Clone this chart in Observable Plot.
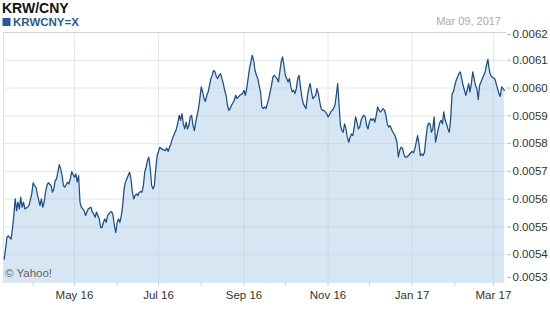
<!DOCTYPE html>
<html>
<head>
<meta charset="utf-8">
<script src="https://cdn.jsdelivr.net/npm/d3@7"></script>
<script src="https://cdn.jsdelivr.net/npm/@observablehq/plot@0.6"></script>
<style>
  html, body { margin: 0; padding: 0; background: #fff; }
  #wrap { position: relative; width: 550px; height: 309px; overflow: hidden; font-family: "Liberation Sans", Arial, Helvetica, sans-serif; }
  #wrap svg { position: absolute; left: 0; top: 0; }
</style>
</head>
<body>
<div id="wrap"></div>
<script>
// ---- chart texts ----
const title = "KRW/CNY";
const seriesName = "KRWCNY=X";
const asOf = "Mar 09, 2017";
const credit = "\u00A9 Yahoo!";

// ---- axes ----
const yTicks = [0.0053, 0.0054, 0.0055, 0.0056, 0.0057, 0.0058, 0.0059, 0.0060, 0.0061, 0.0062];
const majorMonths = ["2016-05-01", "2016-07-01", "2016-09-01", "2016-11-01", "2017-01-01", "2017-03-01"];
const minorMonths = ["2016-04-01", "2016-06-01", "2016-08-01", "2016-10-01", "2016-12-01", "2017-02-01"];
const xDomain = ["2016-03-10T12:00Z", "2017-03-10T12:00Z"];

// ---- series (KRW/CNY daily close) ----
const dates = [
"2016-03-11","2016-03-12","2016-03-13","2016-03-14","2016-03-16","2016-03-17","2016-03-18","2016-03-19","2016-03-20","2016-03-21",
"2016-03-22","2016-03-23","2016-03-24","2016-03-25","2016-03-26","2016-03-28","2016-03-29","2016-03-31",
"2016-04-01","2016-04-02","2016-04-03","2016-04-04","2016-04-06","2016-04-07","2016-04-08","2016-04-09","2016-04-10","2016-04-11",
"2016-04-12","2016-04-14","2016-04-15","2016-04-16","2016-04-17","2016-04-18","2016-04-20","2016-04-21","2016-04-22","2016-04-23",
"2016-04-24","2016-04-26","2016-04-27","2016-04-28","2016-04-29",
"2016-05-01","2016-05-02","2016-05-03","2016-05-04","2016-05-05","2016-05-06","2016-05-07","2016-05-08","2016-05-09","2016-05-10",
"2016-05-11","2016-05-13","2016-05-14","2016-05-15","2016-05-16","2016-05-17","2016-05-19","2016-05-20","2016-05-21","2016-05-22",
"2016-05-23","2016-05-24","2016-05-25","2016-05-27","2016-05-28","2016-05-29","2016-05-30","2016-05-31",
"2016-06-01","2016-06-02","2016-06-03","2016-06-04","2016-06-05","2016-06-06","2016-06-07","2016-06-08","2016-06-09","2016-06-10",
"2016-06-11","2016-06-12","2016-06-13","2016-06-14","2016-06-15","2016-06-16","2016-06-17","2016-06-18","2016-06-19","2016-06-20",
"2016-06-21","2016-06-22","2016-06-23","2016-06-24","2016-06-25","2016-06-26","2016-06-27","2016-06-28","2016-06-29","2016-06-30",
"2016-07-01","2016-07-02","2016-07-03","2016-07-04","2016-07-06","2016-07-07","2016-07-08","2016-07-09","2016-07-10","2016-07-11",
"2016-07-12","2016-07-13","2016-07-14","2016-07-15","2016-07-16","2016-07-17","2016-07-18","2016-07-19","2016-07-20","2016-07-21",
"2016-07-22","2016-07-23","2016-07-24","2016-07-25","2016-07-26","2016-07-27","2016-07-28","2016-07-29","2016-07-30","2016-07-31",
"2016-08-01","2016-08-02","2016-08-03","2016-08-04","2016-08-05","2016-08-06","2016-08-07","2016-08-08","2016-08-09","2016-08-10",
"2016-08-11","2016-08-12","2016-08-13","2016-08-14","2016-08-15","2016-08-16","2016-08-17","2016-08-18","2016-08-19","2016-08-20",
"2016-08-21","2016-08-22","2016-08-23","2016-08-25","2016-08-26","2016-08-27","2016-08-28","2016-08-29","2016-08-31",
"2016-09-01","2016-09-02","2016-09-03","2016-09-04","2016-09-05","2016-09-06","2016-09-07","2016-09-08","2016-09-09","2016-09-10",
"2016-09-11","2016-09-12","2016-09-13","2016-09-14","2016-09-15","2016-09-16","2016-09-17","2016-09-18","2016-09-19","2016-09-20",
"2016-09-21","2016-09-22","2016-09-23","2016-09-25","2016-09-26","2016-09-27","2016-09-28","2016-09-29","2016-09-30",
"2016-10-01","2016-10-02","2016-10-03","2016-10-04","2016-10-05","2016-10-06","2016-10-07","2016-10-08","2016-10-09","2016-10-10",
"2016-10-11","2016-10-12","2016-10-13","2016-10-14","2016-10-16","2016-10-17","2016-10-18","2016-10-19","2016-10-20","2016-10-21",
"2016-10-22","2016-10-23","2016-10-24","2016-10-25","2016-10-26","2016-10-27","2016-10-28","2016-10-29","2016-10-30","2016-10-31",
"2016-11-01","2016-11-02","2016-11-03","2016-11-04","2016-11-05","2016-11-06","2016-11-07","2016-11-08","2016-11-09","2016-11-10",
"2016-11-11","2016-11-12","2016-11-13","2016-11-14","2016-11-15","2016-11-16","2016-11-17","2016-11-18","2016-11-19","2016-11-20",
"2016-11-21","2016-11-22","2016-11-23","2016-11-24","2016-11-25","2016-11-26","2016-11-27","2016-11-28","2016-11-29","2016-11-30",
"2016-12-01","2016-12-02","2016-12-03","2016-12-04","2016-12-05","2016-12-06","2016-12-07","2016-12-08","2016-12-09","2016-12-10",
"2016-12-11","2016-12-12","2016-12-13","2016-12-14","2016-12-15","2016-12-16","2016-12-17","2016-12-18","2016-12-19","2016-12-20",
"2016-12-21","2016-12-22","2016-12-23","2016-12-24","2016-12-25","2016-12-26","2016-12-27","2016-12-28","2016-12-30","2016-12-31",
"2017-01-01","2017-01-02","2017-01-03","2017-01-05","2017-01-06","2017-01-07","2017-01-08","2017-01-09","2017-01-10","2017-01-11",
"2017-01-12","2017-01-13","2017-01-14","2017-01-15","2017-01-16","2017-01-17","2017-01-18","2017-01-19","2017-01-20","2017-01-21",
"2017-01-22","2017-01-23","2017-01-24","2017-01-25","2017-01-26","2017-01-27","2017-01-28","2017-01-29","2017-01-30","2017-01-31",
"2017-02-01","2017-02-02","2017-02-03","2017-02-04","2017-02-05","2017-02-06","2017-02-07","2017-02-08","2017-02-09","2017-02-10",
"2017-02-11","2017-02-12","2017-02-13","2017-02-14","2017-02-15","2017-02-16","2017-02-17","2017-02-18","2017-02-19","2017-02-20",
"2017-02-21","2017-02-22","2017-02-23","2017-02-24","2017-02-25","2017-02-26","2017-02-27","2017-02-28",
"2017-03-01","2017-03-02","2017-03-03","2017-03-04","2017-03-05","2017-03-06","2017-03-07","2017-03-08","2017-03-09"
];
const rates = [
0.005384,0.005420,0.005462,0.005468,0.005456,0.005492,0.005541,0.005601,0.005559,0.005589,
0.005565,0.005607,0.005571,0.005589,0.005565,0.005571,0.005577,0.005619,
0.005659,0.005649,0.005643,0.005619,0.005577,0.005601,0.005571,0.005589,0.005625,0.005649,
0.005659,0.005649,0.005625,0.005637,0.005667,0.005673,0.005724,0.005709,0.005685,0.005649,
0.005643,0.005661,0.005655,0.005673,0.005699,
0.005679,0.005691,0.005661,0.005685,0.005589,0.005571,0.005565,0.005559,0.005541,0.005553,
0.005565,0.005571,0.005553,0.005547,0.005535,0.005553,0.005529,0.005498,0.005498,0.005516,
0.005529,0.005516,0.005541,0.005553,0.005555,0.005541,0.005504,0.005480,
0.005516,0.005529,0.005516,0.005541,0.005577,0.005637,0.005661,0.005673,0.005685,0.005697,
0.005673,0.005625,0.005601,0.005613,0.005619,0.005613,0.005625,0.005627,0.005625,0.005649,
0.005697,0.005715,0.005739,0.005751,0.005709,0.005649,0.005637,0.005649,0.005709,0.005757,
0.005772,0.005787,0.005781,0.005779,0.005775,0.005784,0.005772,0.005787,0.005799,0.005817,
0.005829,0.005841,0.005853,0.005875,0.005902,0.005884,0.005908,0.005871,0.005853,0.005877,
0.005853,0.005865,0.005896,0.005902,0.005865,0.005847,0.005877,0.005902,0.005926,0.005962,
0.006004,0.005986,0.005962,0.005952,0.005974,0.005986,0.006010,0.006034,0.006046,0.006064,
0.006058,0.006040,0.006034,0.006046,0.006052,0.006034,0.006016,0.005992,0.005974,0.005938,
0.005920,0.005926,0.005938,0.005956,0.005974,0.005962,0.005968,0.005974,0.005980,
0.005992,0.005974,0.005998,0.006034,0.006070,0.006094,0.006118,0.006100,0.006064,0.006046,
0.006034,0.006010,0.005986,0.005932,0.005926,0.005932,0.005926,0.005944,0.005962,0.005986,
0.006010,0.006040,0.006046,0.006034,0.006022,0.006058,0.006094,0.006112,0.006082,
0.006046,0.006034,0.006022,0.006034,0.006004,0.005986,0.005992,0.005980,0.005998,0.006034,
0.006046,0.006004,0.005968,0.005944,0.005926,0.005968,0.005998,0.006016,0.005986,0.005962,
0.005968,0.005974,0.005998,0.005980,0.005950,0.005926,0.005920,0.005920,0.005914,0.005908,
0.005896,0.005904,0.005914,0.005920,0.005926,0.005938,0.005974,0.006016,0.005938,0.005865,
0.005847,0.005841,0.005871,0.005853,0.005823,0.005805,0.005823,0.005835,0.005829,0.005859,
0.005896,0.005877,0.005853,0.005859,0.005884,0.005896,0.005902,0.005896,0.005865,0.005853,
0.005877,0.005890,0.005884,0.005890,0.005877,0.005902,0.005932,0.005920,0.005914,0.005920,
0.005926,0.005920,0.005902,0.005871,0.005859,0.005865,0.005853,0.005841,0.005835,0.005823,
0.005805,0.005751,0.005775,0.005787,0.005784,0.005763,0.005751,0.005751,0.005760,0.005767,
0.005772,0.005767,0.005781,0.005829,0.005799,0.005757,0.005763,0.005757,0.005769,0.005817,
0.005859,0.005874,0.005871,0.005841,0.005853,0.005896,0.005805,0.005829,0.005853,0.005874,
0.005884,0.005871,0.005914,0.005884,0.005871,0.005853,0.005841,0.005890,0.005980,0.005986,
0.006010,0.006028,0.006040,0.006052,0.006058,0.006034,0.006010,0.005992,0.005974,0.005992,
0.006016,0.005986,0.006016,0.006058,0.006034,0.006010,0.005998,0.005959,0.006010,0.006022,
0.006034,0.006046,0.006058,0.006082,0.006104,0.006064,0.006046,0.006040,
0.006036,0.006034,0.006016,0.005998,0.005980,0.005970,0.006004,0.005998,0.005992
];

// ---- build ----
const parse = d3.isoParse;
const data = dates.map((d, i) => ({date: parse(d), rate: rates[i]}));
const yMin = d3.min(yTicks), yMax = d3.max(yTicks);
const majors = majorMonths.map(parse);
const minors = minorMonths.map(parse);
const fmtMonth = d3.utcFormat("%b %y");
const fmtRate = d => d.toFixed(4);
const font = '"Liberation Sans", Arial, Helvetica, sans-serif';

const lineColor = "#1b4f8c";
const gridColor = "#b4c9df";
const yAxisStyle = {anchor: "right", label: null, tickSize: 4, tickPadding: 2, tickFormat: fmtRate, stroke: "#bbb", fill: "#333", fontSize: 11.5};

const chart = Plot.plot({
  width: 550,
  height: 309,
  marginTop: 32,
  marginBottom: 27,
  marginLeft: 3,
  marginRight: 44,
  style: {fontFamily: font, fontSize: "11.5px", background: "transparent", overflow: "visible"},
  x: {type: "utc", domain: xDomain.map(parse), axis: null, label: null},
  y: {domain: [yMin, yMax], axis: null, label: null},
  marks: [
    Plot.areaY(data, {x: "date", y1: yMin, y2: "rate", fill: "#d6e6f2"}),
    Plot.ruleY(yTicks.filter(t => t !== yMax), {stroke: gridColor, strokeOpacity: 0.4}),
    Plot.ruleX(majors, {stroke: gridColor, strokeOpacity: 0.4}),
    Plot.ruleY([yMax], {stroke: "#d4d4d4"}),
    Plot.ruleX([parse(xDomain[0])], {stroke: "#e2e2e2"}),
    Plot.lineY(data, {x: "date", y: "rate", stroke: lineColor, strokeWidth: 1.25}),
    Plot.axisX(minors, {label: null, tickSize: 4, tickFormat: () => "", stroke: "#cfcfcf"}),
    Plot.axisX(majors, {label: null, tickSize: 4, tickPadding: 4, tickFormat: fmtMonth, stroke: "#cfcfcf", fill: "#333", fontSize: 11.5}),
    Plot.axisY(yTicks.filter(t => t !== yMax && t !== yMin), yAxisStyle),
    Plot.axisY([yMax], {...yAxisStyle, dy: 2}),
    Plot.axisY([yMin], {...yAxisStyle, dy: -5})
  ]
});

const wrap = document.getElementById("wrap");
wrap.appendChild(chart);

// header / credit overlay
const ov = d3.create("svg").attr("width", 550).attr("height", 309)
  .style("font-family", font).style("pointer-events", "none");
ov.append("text").attr("x", 2).attr("y", 12.5).attr("font-size", 14).attr("font-weight", "bold").attr("fill", "#111").text(title);
ov.append("rect").attr("x", 2.5).attr("y", 18).attr("width", 8).attr("height", 8).attr("fill", "#1f5c99");
ov.append("text").attr("x", 13).attr("y", 26).attr("font-size", 11.5).attr("font-weight", "bold").attr("fill", "#1f5c99").text(seriesName);
ov.append("text").attr("x", 501).attr("y", 25).attr("text-anchor", "end").attr("font-size", 11).attr("fill", "#aaa").text(asOf);
ov.append("text").attr("x", 5).attr("y", 277).attr("font-size", 11.5).attr("fill", "#666").text(credit);
wrap.appendChild(ov.node());
</script>
</body>
</html>
